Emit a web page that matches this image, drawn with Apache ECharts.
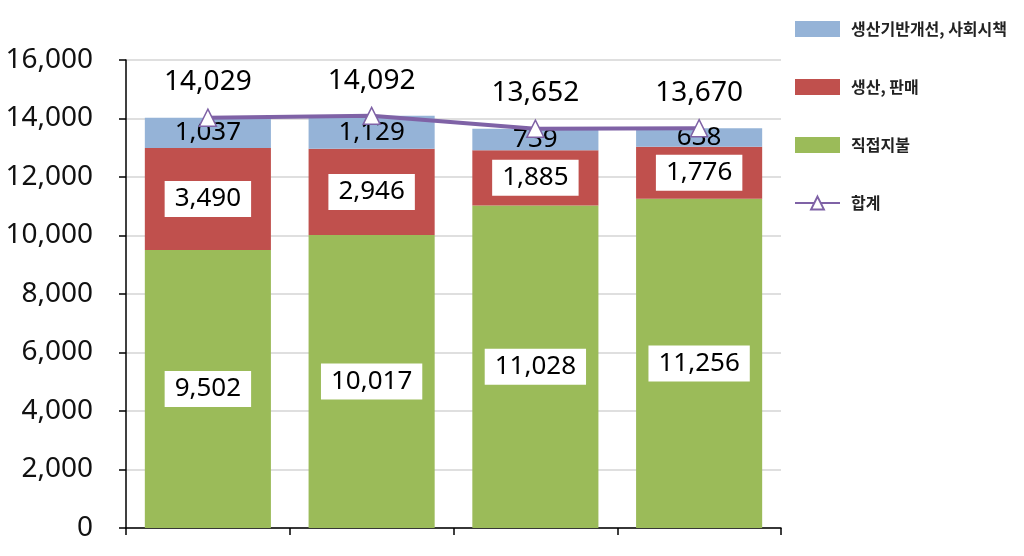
<!DOCTYPE html>
<html>
<head>
<meta charset="utf-8">
<script src="https://cdn.jsdelivr.net/npm/echarts@6/dist/echarts.min.js"></script>
<style>html,body{margin:0;padding:0;background:#fff;}#c{width:1024px;height:556px;}</style>
</head>
<body>
<div id="c"></div>
<script>
var categories = ['1', '2', '3', '4'];
var directPay = [9502, 10017, 11028, 11256];
var prodSales = [3490, 2946, 1885, 1776];
var infraSocial = [1037, 1129, 739, 638];
var totals = [14029, 14092, 13652, 13670];
var yTicks = { min: 0, max: 16000, interval: 2000 };

var numFmt = function (v) { return Number(v).toLocaleString('en-US'); };
var font = '"Noto Sans", "Noto Sans CJK KR", sans-serif';
var boxLabel = {
  show: true, position: 'inside', color: '#000', fontSize: 26, fontFamily: font,
  backgroundColor: '#fff', padding: [6, 10, 4, 10],
  formatter: function (p) { return numFmt(p.value); }
};
var chart = echarts.init(document.getElementById('c'));
chart.setOption({
  animation: false,
  backgroundColor: '#fff',
  grid: { left: 126, right: 243, top: 60, bottom: 28 },
  legend: {
    orient: 'vertical', left: 789, top: 16, itemWidth: 45, itemHeight: 16, itemGap: 42,
    textStyle: { fontSize: 16, fontFamily: '"Noto Sans CJK KR", sans-serif', fontWeight: 'bold', color: '#222', padding: [0, 0, 0, 6] },
    data: [
      { name: '생산기반개선, 사회시책', icon: 'rect' },
      { name: '생산, 판매', icon: 'rect' },
      { name: '직접지불', icon: 'rect' },
      { name: '합계' }
    ]
  },
  xAxis: {
    type: 'category', data: categories,
    axisLine: { lineStyle: { color: '#000', width: 1.5 } },
    axisTick: { show: true, length: 7, lineStyle: { color: '#000', width: 1.5 } },
    axisLabel: { show: false }
  },
  yAxis: {
    type: 'value', min: yTicks.min, max: yTicks.max, interval: yTicks.interval,
    axisLine: { show: true, lineStyle: { color: '#000', width: 1.5 } },
    axisTick: { show: true, length: 7, lineStyle: { color: '#000', width: 1.5 } },
    splitLine: { lineStyle: { color: '#d4d4d4', width: 1.5 } },
    axisLabel: { fontSize: 28, fontFamily: font, color: '#111', margin: 33, formatter: numFmt }
  },
  series: [
    {
      name: '직접지불', type: 'bar', stack: 's', data: directPay, barCategoryGap: '23%',
      itemStyle: { color: '#9BBB59' }, label: boxLabel
    },
    {
      name: '생산, 판매', type: 'bar', stack: 's', data: prodSales,
      itemStyle: { color: '#C0504D' }, label: boxLabel
    },
    {
      name: '생산기반개선, 사회시책', type: 'bar', stack: 's', data: infraSocial,
      itemStyle: { color: '#95B3D7' },
      label: { show: true, position: 'inside', color: '#000', fontSize: 26, fontFamily: font, formatter: function (p) { return numFmt(p.value); } }
    },
    {
      name: '합계', type: 'line', data: totals, symbol: 'triangle', symbolSize: 17,
      lineStyle: { color: '#7F62A6', width: 4 },
      itemStyle: { color: '#fff', borderColor: '#7F62A6', borderWidth: 1.5 },
      label: { show: true, position: 'top', distance: 12, color: '#000', fontSize: 28, fontFamily: font, formatter: function (p) { return numFmt(p.value); } },
      z: 5
    }
  ]
});
</script>
</body>
</html>
